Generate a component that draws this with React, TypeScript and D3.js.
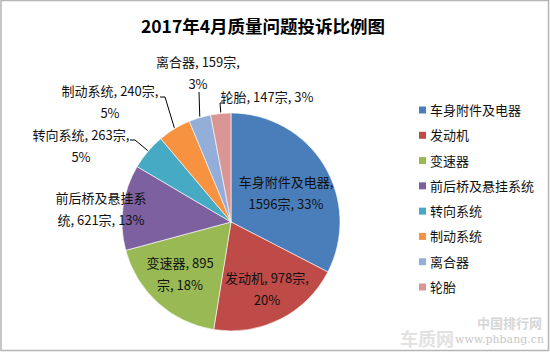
import { useEffect, useRef } from 'react';
import * as d3 from 'd3';

const categories = ['车身附件及电器', '发动机', '变速器', '前后桥及悬挂系统', '转向系统', '制动系统', '离合器', '轮胎'];
const counts = [1596, 978, 895, 621, 263, 240, 159, 147];
const percents = ['33%', '20%', '18%', '13%', '5%', '5%', '3%', '3%'];
const colors = ['#4A7EBB', '#BE4B48', '#98B954', '#7D60A0', '#46AAC5', '#F69240', '#94AEDA', '#D99694'];

// data label text lines, as Excel wrapped them
const labelLines = [
  ['车身附件及电器,', '1596宗, 33%'],
  ['发动机, 978宗,', '20%'],
  ['变速器, 895', '宗, 18%'],
  ['前后桥及悬挂系', '统, 621宗, 13%'],
  ['转向系统, 263宗,', '5%'],
  ['制动系统, 240宗,', '5%'],
  ['离合器, 159宗,', '3%'],
  ['轮胎, 147宗, 3%'],
];

export default function App() {
  const svgRef = useRef<SVGSVGElement>(null);

  useEffect(() => {
    if (!svgRef.current) return;
    const svg = d3.select(svgRef.current);
    svg.selectAll('*').remove();

    const width = 550;
    const height = 352;
    const cx = 231;
    const cy = 222;
    const r = 109;
    const font = '"Noto Sans CJK SC", "Noto Sans", sans-serif';

    svg.append('rect')
      .attr('x', 1).attr('y', 0.5)
      .attr('width', width - 2.5).attr('height', height - 2)
      .attr('fill', '#fff')
      .attr('stroke', '#b4b4b4')
      .attr('stroke-width', 1.5);

    svg.append('text')
      .attr('x', 263)
      .attr('y', 33)
      .attr('text-anchor', 'middle')
      .style('font-family', font)
      .style('font-size', '17.5px')
      .style('font-weight', 'bold')
      .text('2017年4月质量问题投诉比例图');

    const pie = d3.pie<number>().sort(null).value(d => d);
    const arcs = pie(counts);
    const arc = d3.arc<d3.PieArcDatum<number>>().innerRadius(0).outerRadius(r);
    const edge = d3.arc<d3.PieArcDatum<number>>().innerRadius(r).outerRadius(r);

    const g = svg.append('g').attr('transform', `translate(${cx},${cy})`);

    g.selectAll('path.slice')
      .data(arcs)
      .enter()
      .append('path')
      .attr('class', 'slice')
      .attr('d', arc)
      .attr('fill', (d, i) => colors[i])
      .attr('stroke', '#fff')
      .attr('stroke-width', 0.6);

    // label anchors (center of text block) relative to pie center
    const labelPos = [
      [55, -29], [36, 67], [-51, 52], [-130, -13],
      [-150, -76], [-121, -120], [-33, -149], [36, -125],
    ];
    const lineGap = 22;

    labelLines.forEach((lines, i) => {
      const [lx, ly] = labelPos[i];
      const t = g.append('text')
        .attr('text-anchor', 'middle')
        .style('font-family', font)
        .style('font-size', '13px')
        .attr('fill', '#111');
      lines.forEach((s, j) => {
        t.append('tspan')
          .attr('x', lx)
          .attr('y', ly + (j - (lines.length - 1) / 2) * lineGap + 5)
          .text(s);
      });
    });

    // leader lines for the small outside slices
    const leaderStart: Record<number, [number, number][]> = {
      4: [[-101, -82], [-96, -82]],
      5: [[-71, -125], [-66, -125]],
      6: [[-32, -130]],
      7: [[-6, -119], [-11, -119]],
    };
    Object.entries(leaderStart).forEach(([k, pts]) => {
      const i = +k;
      const [ex, ey] = edge.centroid(arcs[i]);
      const path = d3.path();
      path.moveTo(pts[0][0], pts[0][1]);
      pts.slice(1).forEach(p => path.lineTo(p[0], p[1]));
      path.lineTo(ex, ey - 1);
      g.append('path')
        .attr('d', path.toString())
        .attr('fill', 'none')
        .attr('stroke', '#000')
        .attr('stroke-width', 1);
    });

    // legend
    const legendY = d3.scalePoint<string>()
      .domain(categories)
      .range([110, 287]);
    const legend = svg.append('g');
    categories.forEach((c, i) => {
      const y = legendY(c)!;
      legend.append('rect')
        .attr('x', 419).attr('y', y - 3.5)
        .attr('width', 7).attr('height', 7)
        .attr('fill', colors[i]);
      legend.append('text')
        .attr('x', 430)
        .attr('y', y + 5)
        .style('font-family', font)
        .style('font-size', '13px')
        .attr('fill', '#111')
        .text(c);
    });

    // watermark
    svg.append('text')
      .attr('x', 542).attr('y', 328)
      .attr('text-anchor', 'end')
      .style('font-family', font)
      .style('font-size', '13px')
      .style('font-weight', 'bold')
      .attr('fill', '#d6d6d6')
      .text('中国排行网');
    svg.append('text')
      .attr('x', 400).attr('y', 346)
      .style('font-family', font)
      .style('font-size', '18px')
      .style('font-weight', 'bold')
      .attr('fill', '#e2e2e2')
      .text('车质网');
    svg.append('text')
      .attr('x', 544).attr('y', 343)
      .attr('text-anchor', 'end')
      .style('font-family', '"DejaVu Serif", serif')
      .style('font-size', '11px')
      .attr('fill', '#c8c8c8')
      .text('www.phbang.cn');
  }, []);

  return (
    <svg
      ref={svgRef}
      width={550}
      height={352}
      style={{ position: 'absolute', left: 0, top: 0, display: 'block', background: '#fff' }}
    />
  );
}
